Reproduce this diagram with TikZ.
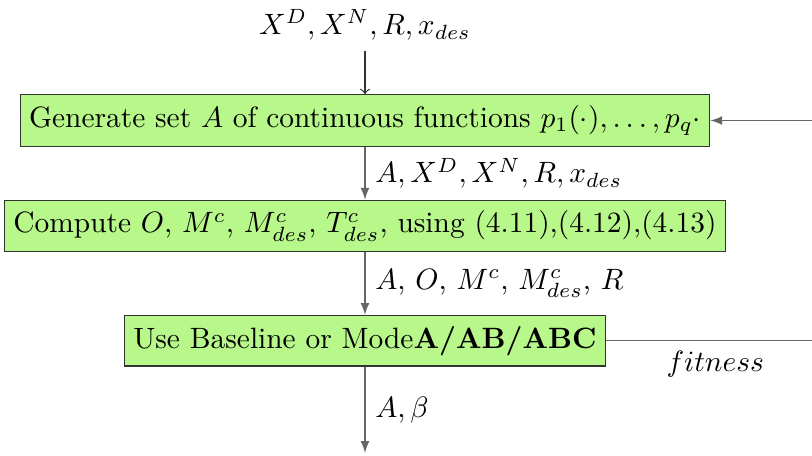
\documentclass[tikz,border=0pt]{standalone}
\usepackage{amsmath}
\usepackage{amssymb}
\usepackage{tikz}

\definecolor{boxgreen}{RGB}{184,247,138}

\begin{document}
\begin{tikzpicture}[
    stepbox/.style={rectangle, draw=black!80, fill=boxgreen, inner xsep=3pt, inner ysep=3.6pt},
    flow/.style={draw=black!60}
]
\useasboundingbox (0,0) rectangle (9.70,5.44);

\node (inp) at (4.36,5.14) {$X^D,X^N,R,x_{des}$};
\node[stepbox] (gen) at (4.36,4.00) {Generate set $A$ of continuous functions $p_1(\cdot),\ldots,p_q\cdot$};
\node[stepbox] (comp) at (4.36,2.74) {Compute $O$, $M^c$, $M^c_{des}$, $T^c_{des}$, using (4.11),(4.12),(4.13)};
\node[stepbox] (mode) at (4.36,1.37) {Use Baseline or Mode\textbf{A/AB/ABC}};
\coordinate (out) at (4.36,0.03);
\coordinate (loop) at (9.85,0);

\draw[draw=black!80, thin, ->] (inp) -- (gen);
\draw[flow, -latex] (gen) -- node[right] {$A,X^D,X^N,R,x_{des}$} (comp);
\draw[flow, -latex] (comp) -- node[right] {$A$, $O$, $M^c$, $M^c_{des}$, $R$} (mode);
\draw[flow, -latex] (mode) -- node[right] {$A,\beta$} (out);
\draw[flow, -latex] (mode) -- node[below] {$fitness$} (mode -| loop) |- (gen);
\end{tikzpicture}
\end{document}
